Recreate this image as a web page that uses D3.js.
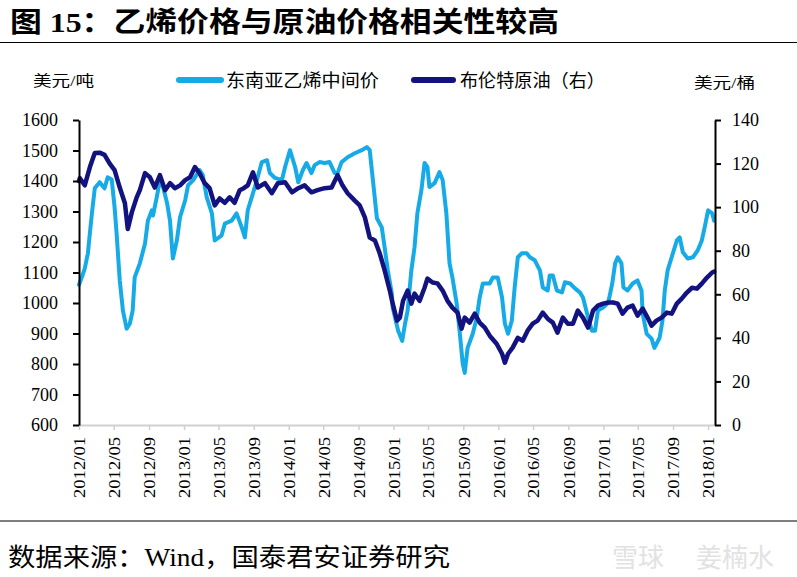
<!DOCTYPE html>
<html>
<head>
<meta charset="utf-8">
<script src="https://cdn.jsdelivr.net/npm/d3@7"></script>
<style>
  html, body { margin: 0; padding: 0; background: #fff; }
  svg { display: block; }
  text { font-family: "Liberation Serif", "Times New Roman", "Noto Sans CJK SC", serif; }
</style>
</head>
<body>
<svg id="chart" width="797" height="577"></svg>
<script>
// ---------------- DATA ----------------
const title = "图 15：乙烯价格与原油价格相关性较高";
const source = "数据来源：Wind，国泰君安证券研究";
const seriesNames = ["东南亚乙烯中间价", "布伦特原油（右）"];
const leftUnit = "美元/吨";
const rightUnit = "美元/桶";

const ethDates = ["2012-01-01","2012-01-11","2012-01-21","2012-02-01","2012-02-08","2012-02-15","2012-02-25","2012-03-13","2012-03-30","2012-04-10","2012-04-24","2012-05-04","2012-05-11","2012-05-22","2012-06-02","2012-06-15","2012-06-26","2012-07-06","2012-07-13","2012-07-31","2012-08-18","2012-08-28","2012-09-11","2012-09-15","2012-09-28","2012-10-09","2012-10-20","2012-11-03","2012-11-13","2012-11-23","2012-12-07","2012-12-18","2013-01-05","2013-01-15","2013-02-02","2013-02-24","2013-03-07","2013-03-21","2013-04-08","2013-04-18","2013-05-12","2013-05-23","2013-06-16","2013-07-03","2013-07-21","2013-08-01","2013-08-11","2013-08-25","2013-09-12","2013-09-29","2013-10-17","2013-10-27","2013-11-14","2013-12-08","2013-12-19","2014-01-05","2014-01-23","2014-02-03","2014-02-19","2014-03-04","2014-03-21","2014-04-01","2014-04-18","2014-05-06","2014-05-23","2014-06-10","2014-06-20","2014-07-04","2014-07-25","2014-08-19","2014-09-12","2014-09-30","2014-10-10","2014-10-21","2014-11-04","2014-11-21","2014-12-01","2014-12-12","2014-12-26","2014-12-29","2015-01-17","2015-01-31","2015-02-10","2015-02-19","2015-03-04","2015-03-15","2015-03-25","2015-04-08","2015-04-19","2015-04-29","2015-05-06","2015-05-24","2015-06-10","2015-06-21","2015-07-04","2015-07-15","2015-07-25","2015-08-09","2015-08-19","2015-08-30","2015-09-06","2015-09-16","2015-10-04","2015-10-18","2015-10-28","2015-11-08","2015-12-02","2015-12-13","2015-12-30","2016-01-14","2016-01-24","2016-02-04","2016-02-17","2016-02-27","2016-03-09","2016-03-23","2016-04-09","2016-04-20","2016-05-07","2016-05-25","2016-06-04","2016-06-21","2016-06-28","2016-07-09","2016-07-23","2016-08-10","2016-08-20","2016-09-07","2016-09-24","2016-10-11","2016-10-22","2016-11-09","2016-11-22","2016-12-03","2016-12-13","2016-12-31","2017-01-18","2017-02-01","2017-02-11","2017-02-20","2017-03-05","2017-03-12","2017-03-26","2017-04-13","2017-04-30","2017-05-14","2017-05-18","2017-06-01","2017-06-18","2017-06-28","2017-07-16","2017-07-26","2017-08-03","2017-08-13","2017-08-27","2017-09-14","2017-09-24","2017-10-05","2017-10-22","2017-11-09","2017-11-26","2017-12-10","2017-12-20","2018-01-01","2018-01-15","2018-01-22"];
const ethValues = [1060,1085,1113,1163,1230,1294,1376,1396,1376,1412,1405,1314,1228,1074,975,916,932,975,1084,1130,1195,1270,1304,1287,1347,1403,1380,1327,1270,1146,1205,1281,1337,1386,1403,1436,1420,1347,1294,1205,1222,1260,1270,1294,1248,1215,1304,1347,1403,1462,1468,1426,1410,1403,1446,1501,1446,1396,1436,1459,1426,1452,1462,1459,1462,1426,1426,1462,1478,1491,1501,1511,1501,1403,1278,1248,1182,1107,1031,985,909,876,932,975,1107,1182,1294,1370,1459,1446,1380,1393,1429,1403,1294,1130,1084,998,909,801,771,853,899,952,1018,1064,1064,1084,1084,1018,932,899,942,1051,1150,1163,1163,1150,1140,1107,1051,1041,1090,1090,1041,1035,1068,1064,1048,1035,1018,952,909,909,975,985,1001,1064,1130,1150,1130,1051,1041,1064,1074,1041,965,899,883,853,886,942,1041,1107,1150,1205,1215,1166,1146,1150,1173,1205,1248,1304,1294,1270];

const brentDates = ["2012-01-01","2012-01-04","2012-01-21","2012-02-08","2012-02-25","2012-03-13","2012-03-30","2012-04-17","2012-05-04","2012-05-22","2012-06-09","2012-06-19","2012-07-03","2012-07-20","2012-07-31","2012-08-18","2012-09-04","2012-09-21","2012-10-09","2012-10-27","2012-11-13","2012-11-30","2012-12-18","2013-01-05","2013-01-22","2013-02-08","2013-02-24","2013-03-14","2013-03-31","2013-04-18","2013-05-05","2013-05-23","2013-06-09","2013-06-26","2013-07-14","2013-07-28","2013-08-11","2013-08-29","2013-09-15","2013-10-10","2013-11-03","2013-11-24","2013-12-19","2014-01-12","2014-02-03","2014-02-25","2014-03-21","2014-04-11","2014-05-06","2014-05-30","2014-06-20","2014-07-07","2014-07-25","2014-08-19","2014-09-05","2014-09-23","2014-10-10","2014-10-28","2014-11-14","2014-12-01","2014-12-19","2014-12-29","2015-01-13","2015-01-23","2015-02-03","2015-02-19","2015-03-04","2015-03-15","2015-04-02","2015-04-19","2015-04-29","2015-05-17","2015-06-03","2015-06-21","2015-07-08","2015-07-25","2015-08-12","2015-08-26","2015-09-06","2015-09-23","2015-10-11","2015-10-28","2015-11-15","2015-12-02","2015-12-26","2016-01-14","2016-01-24","2016-02-04","2016-02-20","2016-03-09","2016-03-26","2016-04-12","2016-04-30","2016-05-17","2016-06-04","2016-06-21","2016-07-09","2016-07-25","2016-08-13","2016-08-30","2016-09-17","2016-10-04","2016-10-22","2016-11-09","2016-11-26","2016-12-13","2016-12-31","2017-01-18","2017-02-04","2017-02-20","2017-03-09","2017-03-26","2017-04-13","2017-04-30","2017-05-18","2017-06-04","2017-06-18","2017-07-05","2017-07-23","2017-08-10","2017-08-27","2017-09-14","2017-10-01","2017-10-19","2017-11-06","2017-11-23","2017-12-10","2017-12-28","2018-01-15","2018-01-22"];
const brentValues = [112,113.3,110,118.4,124.8,125,124,120,117,109,101.8,90,97.6,104.5,107.8,115.6,113.7,109,114.7,107.8,111,108.7,110,112.4,113.7,118.4,115.6,111,108.7,100.8,104,102,104.5,102,107.8,108.7,110,116,109,111,106.4,111,111.4,106.8,108.7,110,106.8,107.8,108.7,109,114.7,110,106.4,103,100.8,95.3,86,84.7,78.7,71,61.7,55.7,47.9,49.3,57,61.7,55.7,60.3,57,63,67.2,65.4,65,61.7,57,53.9,51.6,44.2,49.3,47,51.1,47,44.7,41,37.3,32.7,28.6,32.7,35.5,40,38.7,43.3,46.5,47.9,51.6,48.8,47,42.4,49.3,46.5,46.5,52.5,49.3,44.7,52.5,54.8,55.7,56.2,56.2,55.7,51.1,53.9,54.8,50.2,53.4,49.3,45.6,47.9,49.3,51.6,51.1,55.7,58,60.8,63,62.6,64.9,67.7,70,70.4];

const leftTicks = [600,700,800,900,1000,1100,1200,1300,1400,1500,1600];
const rightTicks = [0,20,40,60,80,100,120,140];
const xTickLabels = ["2012/01","2012/05","2012/09","2013/01","2013/05","2013/09","2014/01","2014/05","2014/09","2015/01","2015/05","2015/09","2016/01","2016/05","2016/09","2017/01","2017/05","2017/09","2018/01"];

// ---------------- DRAW ----------------
const svg = d3.select("#chart");
const parseDay = d3.timeParse("%Y-%m-%d");
const parseMonth = d3.timeParse("%Y/%m");

const x = d3.scaleTime().domain([parseDay("2012-01-01"), parseDay("2018-01-25")]).range([79, 715]);
const yL = d3.scaleLinear().domain([600, 1600]).range([425, 120]);
const yR = d3.scaleLinear().domain([0, 140]).range([425, 120]);

const eth = ethDates.map((d, i) => ({ date: parseDay(d), value: ethValues[i] }));
const brent = brentDates.map((d, i) => ({ date: parseDay(d), value: brentValues[i] }));

const colEth = "#16ABE7";
const colBrent = "#13137F";

// Title
svg.append("text").attr("x", 10).attr("y", 32)
  .attr("textLength", 549).attr("lengthAdjust", "spacingAndGlyphs")
  .style("font-size", "28px").style("font-weight", "bold").style("fill", "#000")
  .text(title);
svg.append("line").attr("x1", 0).attr("x2", 797).attr("y1", 42.5).attr("y2", 42.5)
  .attr("stroke", "#000").attr("stroke-width", 1.2);

// Units
svg.append("text").attr("x", 33).attr("y", 86)
  .attr("textLength", 61).attr("lengthAdjust", "spacingAndGlyphs")
  .style("font-size", "15px").text(leftUnit);
svg.append("text").attr("x", 694).attr("y", 88)
  .attr("textLength", 61).attr("lengthAdjust", "spacingAndGlyphs")
  .style("font-size", "15px").text(rightUnit);

// Legend
const legend = [
  { name: seriesNames[0], color: colEth, x1: 179, x2: 221, tx: 226, tl: 153 },
  { name: seriesNames[1], color: colBrent, x1: 414, x2: 453, tx: 460, tl: 145 }
];
legend.forEach(l => {
  svg.append("line").attr("x1", l.x1).attr("x2", l.x2).attr("y1", 80).attr("y2", 80)
    .attr("stroke", l.color).attr("stroke-width", 6).attr("stroke-linecap", "round");
  svg.append("text").attr("x", l.tx).attr("y", 87)
    .attr("textLength", l.tl).attr("lengthAdjust", "spacingAndGlyphs")
    .style("font-size", "18px").text(l.name);
});

// X axis
const xTickDates = xTickLabels.map(parseMonth);
const xAxis = d3.axisBottom(x).tickValues(xTickDates)
  .tickFormat((d, i) => xTickLabels[i]).tickSize(5).tickSizeOuter(0);
const gx = svg.append("g").attr("transform", "translate(0,425)").call(xAxis);
gx.select(".domain").attr("stroke", "#d0d0d0").attr("stroke-width", 2);
gx.selectAll(".tick line").attr("stroke", "#d0d0d0").attr("stroke-width", 1.5);
gx.selectAll(".tick text")
  .attr("transform", "rotate(-90)")
  .attr("x", -12).attr("y", 0).attr("dy", "0.36em")
  .attr("textLength", 61).attr("lengthAdjust", "spacingAndGlyphs")
  .style("text-anchor", "end").style("font-size", "16px")
  .style("font-family", "'Liberation Serif', serif").style("fill", "#000");

// Lines
const lineEth = d3.line().x(d => x(d.date)).y(d => yL(d.value));
const lineBrent = d3.line().x(d => x(d.date)).y(d => yR(d.value));
svg.append("path").datum(eth).attr("d", lineEth)
  .attr("fill", "none").attr("stroke", colEth).attr("stroke-width", 4)
  .attr("stroke-linejoin", "round").attr("stroke-linecap", "round");
svg.append("path").datum(brent).attr("d", lineBrent)
  .attr("fill", "none").attr("stroke", colBrent).attr("stroke-width", 4.5)
  .attr("stroke-linejoin", "round").attr("stroke-linecap", "round");

// Left axis
const gl = svg.append("g").attr("transform", "translate(79,0)")
  .call(d3.axisLeft(yL).tickValues(leftTicks).tickFormat(d3.format("d")).tickSize(6).tickSizeOuter(0).tickPadding(15));
gl.select(".domain").attr("stroke", "#000").attr("stroke-width", 2);
gl.selectAll(".tick line").attr("stroke", "#000").attr("stroke-width", 2);
gl.selectAll(".tick text").style("font-size", "18px").style("font-family", "'Liberation Serif', serif").style("fill", "#000");

// Right axis
const gr = svg.append("g").attr("transform", "translate(715,0)")
  .call(d3.axisRight(yR).tickValues(rightTicks).tickFormat(d3.format("d")).tickSize(6).tickSizeOuter(0).tickPadding(11));
gr.select(".domain").attr("stroke", "#000").attr("stroke-width", 2);
gr.selectAll(".tick line").attr("stroke", "#000").attr("stroke-width", 2);
gr.selectAll(".tick text").style("font-size", "18px").style("font-family", "'Liberation Serif', serif").style("fill", "#000");

// Footer
svg.append("line").attr("x1", 0).attr("x2", 797).attr("y1", 521).attr("y2", 521)
  .attr("stroke", "#000").attr("stroke-width", 1.2);
svg.append("text").attr("x", 8).attr("y", 566)
  .attr("textLength", 442).attr("lengthAdjust", "spacingAndGlyphs")
  .style("font-size", "25px").text(source);

// Watermark
svg.append("text").attr("x", 612).attr("y", 567).style("font-size", "26px")
  .style("fill", "#e2e2e2").style("font-family", "'Noto Sans CJK SC', sans-serif").text("雪球");
svg.append("text").attr("x", 696).attr("y", 567).style("font-size", "26px")
  .style("fill", "#e2e2e2").style("font-family", "'Noto Sans CJK SC', sans-serif").text("姜楠水");
</script>
</body>
</html>
